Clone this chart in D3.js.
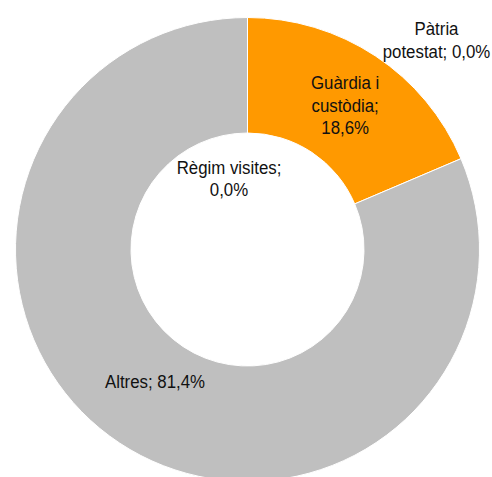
<!DOCTYPE html>
<html>
<head>
<meta charset="utf-8">
<script src="https://cdn.jsdelivr.net/npm/d3@7"></script>
<style>
  html, body { margin: 0; padding: 0; background: #fff; }
  svg { display: block; }
  text { font-family: "Liberation Sans", Arial, sans-serif; font-size: 18.5px; fill: #111; }
</style>
</head>
<body>
<svg id="chart" width="492" height="477"></svg>
<script>
const categories = ["Pàtria potestat", "Règim visites", "Guàrdia i custòdia", "Altres"];
const values = [0.0, 0.0, 18.6, 81.4];
const colors = ["#FF9900", "#BFBFBF", "#FF9900", "#BFBFBF"];

const W = 492, H = 477;
const cx = 247.5, cy = 249.5;
const outerR = 232, innerR = 116.5;

const fmt = v => d3.format(".1f")(v).replace(".", ",");

const svg = d3.select("#chart");
const g = svg.append("g").attr("transform", `translate(${cx},${cy})`);

const pie = d3.pie().sort(null).value(d => d.value);
const data = categories.map((c, i) => ({ cat: c, value: values[i], color: colors[i] }));
const arcs = pie(data);
const arc = d3.arc().innerRadius(innerR).outerRadius(outerR);

g.selectAll("path.slice")
  .data(arcs.filter(d => d.data.value > 0))
  .join("path")
  .attr("class", "slice")
  .attr("d", arc)
  .attr("fill", d => d.data.color)
  .attr("stroke", "#fff")
  .attr("stroke-width", 1);

// label line breaks
const lineBreaks = {
  "Pàtria potestat": d => ["Pàtria", `potestat; ${fmt(d.value)}%`],
  "Règim visites": d => ["Règim visites;", `${fmt(d.value)}%`],
  "Guàrdia i custòdia": d => ["Guàrdia i", "custòdia;", `${fmt(d.value)}%`],
  "Altres": d => [`Altres; ${fmt(d.value)}%`]
};
// zero-value slices get their labels placed at fixed spots (as in the source)
const zeroLabelPos = {
  "Pàtria potestat": [189, -209],
  "Règim visites": [-18.5, -70.5]
};
const labelNudge = {
  "Guàrdia i custòdia": [1.5, 1.5],
  "Altres": [3.6, -12.8]
};
const lineH = 22.3;

arcs.forEach(a => {
  const lines = lineBreaks[a.data.cat](a.data);
  let pos = a.data.value > 0 ? arc.centroid(a) : zeroLabelPos[a.data.cat];
  const nudge = labelNudge[a.data.cat] || [0, 0];
  pos = [pos[0] + nudge[0], pos[1] + nudge[1]];
  const t = g.append("text")
    .attr("text-anchor", "middle")
    .attr("transform", `translate(${pos[0]},${pos[1]}) scale(0.91,1)`);
  const n = lines.length;
  lines.forEach((l, i) => {
    t.append("tspan")
      .attr("x", 0)
      .attr("y", (i - (n - 1) / 2) * lineH + 6)
      .text(l);
  });
});
</script>
</body>
</html>
